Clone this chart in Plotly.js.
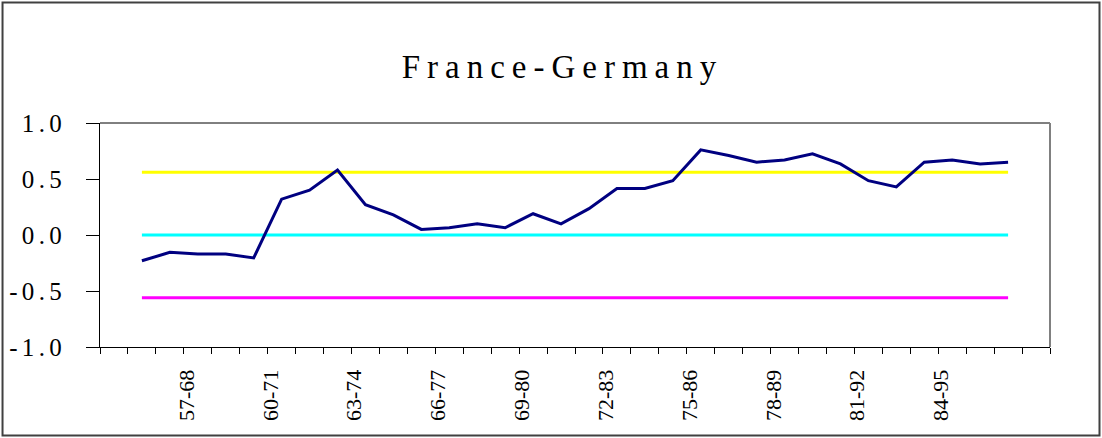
<!DOCTYPE html>
<html>
<head>
<meta charset="utf-8">
<script src="https://cdn.plot.ly/plotly-3.0.1.min.js"></script>
<style>
  html, body { margin: 0; padding: 0; background: #ffffff; }
  #chart { width: 1102px; height: 438px; }
  .gtitle { letter-spacing: 7px; }
  .ytick text { letter-spacing: 4.3px; }
</style>
</head>
<body>
<div id="chart"></div>
<script>
// ---- data ----
const categories = [
  "55-66","56-67","57-68","58-69","59-70","60-71","61-72","62-73",
  "63-74","64-75","65-76","66-77","67-78","68-79","69-80","70-81",
  "71-82","72-83","73-84","74-85","75-86","76-87","77-88","78-89",
  "79-90","80-91","81-92","82-93","83-94","84-95","85-96","86-97"
];
const correlation = [
  -0.23, -0.155, -0.17, -0.17, -0.205, 0.32, 0.40, 0.58,
  0.27, 0.18, 0.05, 0.065, 0.10, 0.065, 0.19, 0.10,
  0.235, 0.415, 0.415, 0.485, 0.76, 0.71, 0.65, 0.67,
  0.725, 0.635, 0.485, 0.43, 0.65, 0.67, 0.635, 0.65
];
const upperBound = 0.56;
const zeroLevel = 0.0;
const lowerBound = -0.56;
const yTickVals = [-1.0, -0.5, 0.0, 0.5, 1.0];
const yTickText = ["-1.0", "-0.5", "0.0", "0.5", "1.0"];
const labelStart = 2;   // first labelled category ("57-68")
const labelStep = 3;    // every third category is labelled

// ---- traces ----
const xIdx = categories.map((c, i) => i);
const shownIdx = xIdx.filter(i => i >= labelStart && (i - labelStart) % labelStep === 0);
const shownText = shownIdx.map(i => categories[i]);
const labelNudge = -0.4;  // visual offset of the rotated labels, as in the source chart
const first = 0, last = categories.length - 1;

function level(v, color) {
  return { type: "scatter", mode: "lines", x: [first, last], y: [v, v],
    line: { color: color, width: 3 }, hoverinfo: "skip" };
}
const traces = [
  level(upperBound, "#FFFF00"),
  level(zeroLevel, "#00FFFF"),
  level(lowerBound, "#FF00FF"),
  { type: "scatter", mode: "lines", x: xIdx, y: correlation, text: categories,
    line: { color: "#000080", width: 3 },
    hovertemplate: "%{text}: %{y:.2f}<extra></extra>" }
];

const serif = "Liberation Serif";
const layout = {
  width: 1102, height: 438,
  margin: { l: 100, r: 52, t: 123, b: 91, pad: 0 },
  paper_bgcolor: "#ffffff", plot_bgcolor: "#ffffff", showlegend: false,
  title: { text: "France-Germany", font: { family: serif, size: 33, color: "#000000" },
    x: 0.5104, xref: "container", xanchor: "center",
    y: 0.849, yref: "container", yanchor: "middle" },
  xaxis: { type: "linear", range: [-1.5, categories.length + 0.5],
    tickmode: "array", tickvals: shownIdx.map(i => i + labelNudge), ticktext: shownText,
    tickangle: -90,
    ticks: "outside", ticklen: 13, tickcolor: "rgba(0,0,0,0)",
    tickfont: { family: serif, size: 22, color: "#000000" },
    minor: { tickmode: "linear", tick0: -0.5, dtick: 1, ticks: "outside", ticklen: 6,
      tickcolor: "#000000", tickwidth: 1, showgrid: false },
    showgrid: false, zeroline: false, showline: true, linecolor: "#000000", linewidth: 1 },
  yaxis: { range: [-1, 1], tickmode: "array", tickvals: yTickVals, ticktext: yTickText,
    ticks: "outside", ticklen: 13, tickcolor: "#000000",
    ticklabelstandoff: 15,
    tickfont: { family: serif, size: 25, color: "#000000" },
    showgrid: false, zeroline: false, showline: true, linecolor: "#000000", linewidth: 1 },
  shapes: [
    { type: "line", xref: "paper", yref: "paper", x0: 0, x1: 1, y0: 1, y1: 1,
      line: { color: "#000000", width: 1 }, layer: "above" },
    { type: "line", xref: "paper", yref: "paper", x0: 1, x1: 1, y0: 0, y1: 1,
      line: { color: "#808080", width: 2 }, layer: "above" },
    { type: "rect", xref: "paper", yref: "paper",
      x0: -0.1026, x1: 1.0521, y0: -0.3951, y1: 1.5379,
      line: { color: "#404040", width: 2 }, fillcolor: "rgba(0,0,0,0)", layer: "above" }
  ]
};
Plotly.newPlot("chart", traces, layout, { staticPlot: true, displayModeBar: false });
</script>
</body>
</html>
